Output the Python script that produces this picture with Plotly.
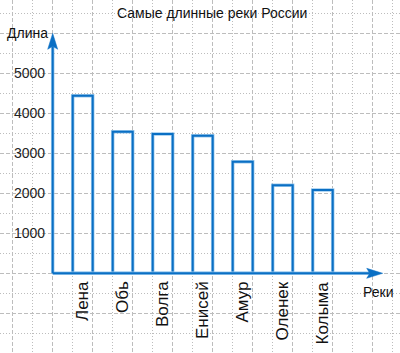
import plotly.graph_objects as go

# ---- data ----
rivers = ["Лена", "Обь", "Волга", "Енисей", "Амур", "Оленек", "Колыма"]
lengths = [4440, 3540, 3480, 3440, 2790, 2200, 2085]
y_ticks = [1000, 2000, 3000, 4000, 5000]
title_text = "Самые длинные реки России"
y_title = "Длина"
x_title = "Реки"

# ---- geometry / style ----
W, H = 400, 353
PX_X = 40.0      # px per category step
PX_Y = 0.04      # px per unit of length
X0_PX = 82.7     # pixel x of first category centre
Y0_PX = 273.3    # pixel y of zero
x_range = [-X0_PX / PX_X, (W - X0_PX) / PX_X]
y_range = [-(H - Y0_PX) / PX_Y, Y0_PX / PX_Y]

AX_X = -0.75                 # position of the vertical axis (category units)
Y_MAX = 6000                 # top of vertical axis arrow
X_MAX = len(rivers) + 0.5    # tip of horizontal axis arrow

BLUE = "#0a6fc4"
HALO = "#9ccaee"
GRID = "#bdbdbd"
FONT = "Liberation Sans, Arial, sans-serif"

xs = list(range(len(rivers)))

fig = go.Figure()
fig.add_bar(x=xs, y=lengths, width=0.5,
            marker=dict(color="rgba(0,0,0,0)", line=dict(color=HALO, width=3.5)),
            hoverinfo="skip")
fig.add_bar(x=xs, y=lengths, width=0.5,
            marker=dict(color="rgba(0,0,0,0)", line=dict(color=BLUE, width=2)),
            hoverinfo="skip")

# axis arrows (px -> data conversions)
head_len_x = 16 / PX_X
head_half_y = 5 / PX_Y
notch_x = 3 / PX_X
head_len_y = 16 / PX_Y
head_half_x = 5 / PX_X
notch_y = 3 / PX_Y

shapes = []
for col, w in [(HALO, 3.5), (BLUE, 2)]:
    shapes.append(dict(type="line", xref="x", yref="y", layer="above",
                       x0=AX_X, y0=0, x1=X_MAX - head_len_x + notch_x, y1=0,
                       line=dict(color=col, width=w)))
    shapes.append(dict(type="line", xref="x", yref="y", layer="above",
                       x0=AX_X, y0=0, x1=AX_X, y1=Y_MAX - head_len_y + notch_y,
                       line=dict(color=col, width=w)))

shapes.append(dict(type="path", xref="x", yref="y", layer="above",
                   path=(f"M{X_MAX},0 L{X_MAX - head_len_x},{head_half_y} "
                         f"L{X_MAX - head_len_x + notch_x},0 "
                         f"L{X_MAX - head_len_x},{-head_half_y} Z"),
                   fillcolor=BLUE, line=dict(color=BLUE, width=0.5)))
shapes.append(dict(type="path", xref="x", yref="y", layer="above",
                   path=(f"M{AX_X},{Y_MAX} L{AX_X - head_half_x},{Y_MAX - head_len_y} "
                         f"L{AX_X},{Y_MAX - head_len_y + notch_y} "
                         f"L{AX_X + head_half_x},{Y_MAX - head_len_y} Z"),
                   fillcolor=BLUE, line=dict(color=BLUE, width=0.5)))

annotations = []
# y tick labels
for v in y_ticks:
    annotations.append(dict(x=AX_X - 6 / PX_X, y=v, xref="x", yref="y",
                            text=str(v), showarrow=False, xanchor="right",
                            yanchor="middle", font=dict(family=FONT, size=14, color="#222")))
# category labels
for i, name in enumerate(rivers):
    annotations.append(dict(x=i, y=-6 / PX_Y, xref="x", yref="y", text=name,
                            textangle=-90, showarrow=False, xanchor="center",
                            yanchor="top", font=dict(family=FONT, size=17, color="#111")))
# axis titles
annotations.append(dict(x=5 / W, y=Y_MAX, xref="paper", yref="y", text=y_title,
                        showarrow=False, xanchor="left", yanchor="middle",
                        font=dict(family=FONT, size=14, color="#111")))
annotations.append(dict(x=(378 - X0_PX) / PX_X, y=-(292 - Y0_PX) / PX_Y, xref="x", yref="y",
                        text=x_title, showarrow=False, xanchor="center", yanchor="middle",
                        font=dict(family=FONT, size=14, color="#111")))
# title
annotations.append(dict(x=212 / W, y=1 - 13 / H, xref="paper", yref="paper",
                        text=title_text, showarrow=False, xanchor="center",
                        yanchor="middle", font=dict(family=FONT, size=14, color="#111")))

fig.update_layout(
    width=W, height=H, autosize=False,
    margin=dict(l=0, r=0, t=0, b=0, pad=0),
    paper_bgcolor="white", plot_bgcolor="white",
    barmode="overlay", showlegend=False,
    shapes=shapes, annotations=annotations,
    xaxis=dict(range=x_range, showticklabels=False, ticks="", zeroline=False,
               showline=False, showgrid=True, tick0=0.25, dtick=1,
               gridcolor=GRID, gridwidth=1, griddash="4px,2px",
               minor=dict(tick0=0.25, dtick=0.5, showgrid=True, gridcolor=GRID,
                          gridwidth=1, griddash="1px,2px"),
               fixedrange=True),
    yaxis=dict(range=y_range, showticklabels=False, ticks="", zeroline=False,
               showline=False, showgrid=True, tick0=0, dtick=1000,
               gridcolor=GRID, gridwidth=1, griddash="4px,2px",
               minor=dict(tick0=0, dtick=500, showgrid=True, gridcolor=GRID,
                          gridwidth=1, griddash="1px,2px"),
               fixedrange=True),
)

fig.write_html("out.html", config={"displayModeBar": False})
